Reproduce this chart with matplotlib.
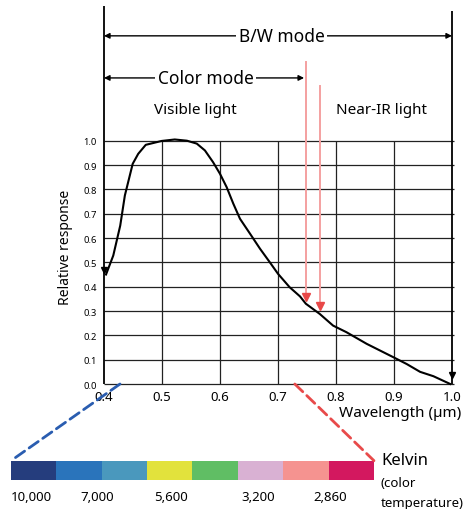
# Spectral response of the sensor, with colour-temperature band below

import numpy as np
import matplotlib.pyplot as plt
from matplotlib.patches import ConnectionPatch

plt.rcParams['font.family'] = ['Noto Sans', 'DejaVu Sans']

# Response curve
wavelength = [0.4035, 0.416, 0.428, 0.436, 0.4495, 0.459, 0.472, 0.4995, 0.522,
              0.543, 0.560, 0.574, 0.588, 0.600, 0.6115, 0.623, 0.6345, 0.652,
              0.669, 0.686, 0.700, 0.720, 0.738, 0.748, 0.772, 0.795, 0.818,
              0.853, 0.899, 0.922, 0.945, 0.968, 0.997]
response = [0.45, 0.528, 0.651, 0.775, 0.905, 0.946, 0.983, 0.999, 1.005,
            1.0, 0.988, 0.96, 0.912, 0.864, 0.809, 0.741, 0.679, 0.617,
            0.556, 0.50, 0.453, 0.398, 0.36, 0.33, 0.288, 0.24, 0.213,
            0.165, 0.11, 0.082, 0.05, 0.032, 0.0]

x_ticks = [0.4, 0.5, 0.6, 0.7, 0.8, 0.9, 1.0]
y_ticks = [0.0, 0.1, 0.2, 0.3, 0.4, 0.5, 0.6, 0.7, 0.8, 0.9, 1.0]

# IR cut filter markers (wavelength, top of arrow, tip of arrow)
ir_cut = [(0.748, 1.324, 0.336), (0.7724, 1.223, 0.30)]

# Colour temperature band
band_colors = ['#253d7d', '#2a74bb', '#4a98bd', '#e2e23c',
               '#60be64', '#d9b1d3', '#f59390', '#d3185f']
kelvin_labels = ['10,000', '7,000', '5,600', '3,200', '2,860']
kelvin_pos = [0.456, 1.89, 3.53, 5.44, 7.03]

fig = plt.figure(figsize=(4.68, 5.10), dpi=100)
ax = fig.add_axes([0.2098, 0.23555, 0.76838, 0.76330])
ax.set_xlim(0.39, 1.01)
ax.set_ylim(-0.02, 1.58)
for s in ax.spines.values():
    s.set_visible(False)

# grid
ax.hlines(y_ticks, 0.4, 1.003, color='#222222', lw=0.9, zorder=1)
ax.vlines(x_ticks[1:-1], 0, 1.0, color='#222222', lw=0.9, zorder=1)
ax.vlines(0.4, 0, 1.553, color='black', lw=1.3, zorder=2)
ax.vlines(1.0, 0, 1.533, color='black', lw=1.3, zorder=2)
ax.plot([0.4], [0.47], marker='v', color='black', ms=5, zorder=3)
ax.plot([1.0], [0.035], marker='v', color='black', ms=5, zorder=3)

# curve
ax.plot(wavelength, response, color='black', lw=1.5, zorder=4)

# red IR cut arrows
for xr, y0, y1 in ir_cut:
    ax.plot([xr, xr], [y0, y1 + 0.03], color='#f4a0a0', lw=1.4, zorder=5)
    ax.plot([xr], [y1 + 0.02], marker='v', color='#e84848', ms=6, zorder=5)

# mode arrows
ax.annotate('', xy=(1.0, 1.431), xytext=(0.4, 1.431),
            arrowprops=dict(arrowstyle='<|-|>', color='black', lw=1.0,
                            mutation_scale=8, shrinkA=0, shrinkB=0))
ax.text(0.706, 1.431, 'B/W mode', ha='center', va='center', fontsize=12.5,
        bbox=dict(facecolor='white', edgecolor='none', pad=2))
ax.annotate('', xy=(0.745, 1.258), xytext=(0.4, 1.258),
            arrowprops=dict(arrowstyle='<|-|>', color='black', lw=1.0,
                            mutation_scale=8, shrinkA=0, shrinkB=0))
ax.text(0.575, 1.258, 'Color mode', ha='center', va='center', fontsize=12.5,
        bbox=dict(facecolor='white', edgecolor='none', pad=2))
ax.text(0.557, 1.13, 'Visible light', ha='center', va='center', fontsize=11)
ax.text(0.878, 1.13, 'Near-IR light', ha='center', va='center', fontsize=11)

ax.set_xticks(x_ticks)
ax.set_xticklabels([f'{v:.1f}' for v in x_ticks], fontsize=9.5)
ax.set_yticks(y_ticks)
ax.set_yticklabels([f'{v:.1f}' for v in y_ticks], fontsize=6.8)
ax.tick_params(axis='x', length=0, pad=1)
ax.tick_params(axis='y', length=0, pad=1)

fig.text(0.141, 0.5157, 'Relative response', rotation=90, ha='center',
         va='center', fontsize=10)
fig.text(0.9865, 0.190, 'Wavelength (µm)', ha='right', va='center', fontsize=11)

# colour band
bx = fig.add_axes([0.0235, 0.05745, 0.7756, 0.03725])
bx.bar(np.arange(len(band_colors)), 1, width=1.0, align='edge',
       color=band_colors, edgecolor='none')
bx.set_xlim(0, len(band_colors))
bx.set_ylim(0, 1)
bx.axis('off')
for p, lab in zip(kelvin_pos, kelvin_labels):
    bx.text(p, -0.86, lab, ha='center', va='center', fontsize=9.5,
            transform=bx.get_xaxis_transform())

fig.text(0.814, 0.0961, 'Kelvin', ha='left', va='center', fontsize=12)
fig.text(0.814, 0.0529, '(color', ha='left', va='center', fontsize=9.5)
fig.text(0.814, 0.0137, 'temperature)', ha='left', va='center', fontsize=9.5)

# dashed connectors from the wavelength axis to the band
for xa, xb, col in [(0.4276, 0, '#2a5db0'), (0.729, 1, '#e84a4a')]:
    con = ConnectionPatch(xyA=(xa, 0), coordsA=ax.transData,
                          xyB=(xb, 1), coordsB=bx.transAxes,
                          color=col, lw=2, linestyle=(0, (4, 2)))
    fig.add_artist(con)

fig.savefig('out.png', dpi=100)
